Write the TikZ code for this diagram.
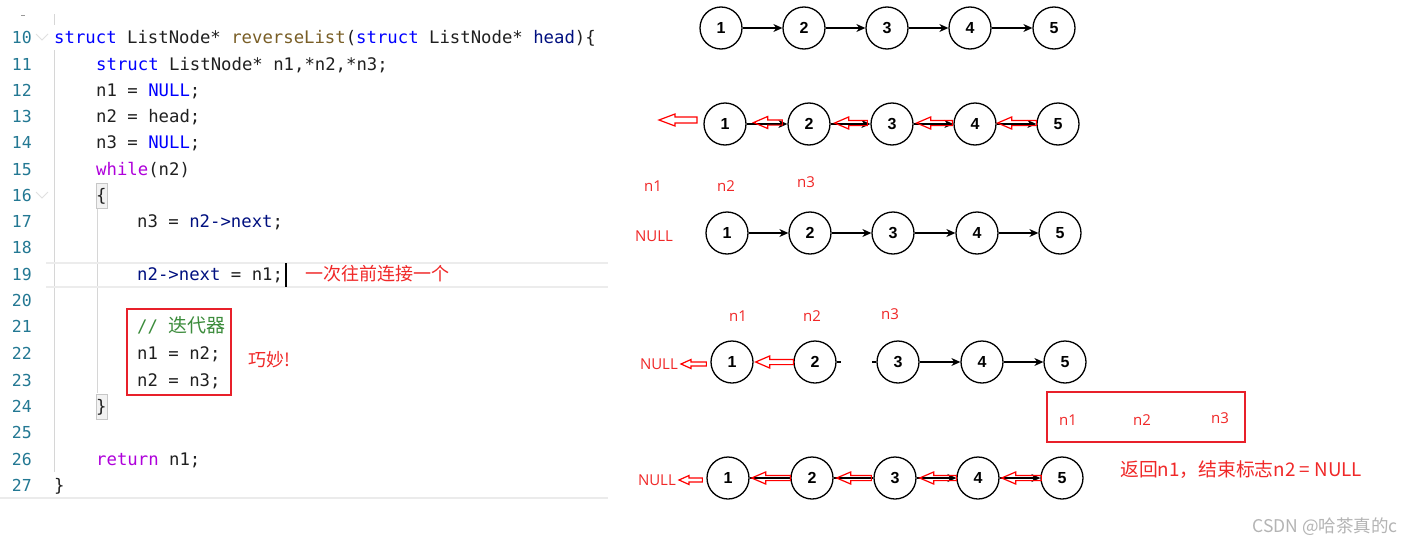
\documentclass[tikz,border=0pt]{standalone}
\usepackage{fontspec}
\setmainfont{Liberation Sans}
\newfontfamily\codefont{DejaVu Sans Mono}
\newfontfamily\cjk{Noto Sans CJK SC}
\newfontfamily\lblfont{Open Sans}
\usetikzlibrary{arrows.meta,calc}
\definecolor{kw}{HTML}{0000FF}
\definecolor{fn}{HTML}{795E26}
\definecolor{var}{HTML}{001080}
\definecolor{ctl}{HTML}{AF00DB}
\definecolor{cmt}{HTML}{3C8C3C}
\definecolor{lnum}{HTML}{237893}
\definecolor{codetxt}{HTML}{202020}
\definecolor{annot}{HTML}{F02828}
\definecolor{boxred}{HTML}{E8202A}
\definecolor{guide}{HTML}{D6D6D6}
\definecolor{curline}{HTML}{ECECEC}
\definecolor{wmark}{HTML}{B4B4B4}
\newcommand\hollowarrow[5]{%
  \draw[hollow] let \p1=#1, \p2=#2 in
   (\x1,\y1) -- (\x1+#3,\y1+#4) -- (\x1+#3,\y1+#5) -- (\x2,\y1+#5)
   -- (\x2,\y1-#5) -- (\x1+#3,\y1-#5) -- (\x1+#3,\y1-#4) -- cycle;}
\tikzset{
  code/.style={anchor=base west,inner sep=0pt,text=codetxt,font=\codefont\fontsize{17.3}{20}\selectfont},
  lnumber/.style={anchor=base east,inner sep=0pt,text=lnum,font=\codefont\fontsize{16.5}{20}\selectfont},
  annotcjk/.style={anchor=west,inner sep=0pt,text=annot,font=\cjk\fontsize{18}{20}\selectfont},
  varlbl/.style={inner sep=0pt,text=annot,font=\lblfont\fontsize{15}{18}\selectfont},
  circ/.style={circle,draw,line width=1.3pt,minimum size=42pt,inner sep=0pt,font=\bfseries\fontsize{16}{16}\selectfont},
  link/.style={line width=1.2pt,-{Stealth[length=9pt,width=8pt]}},
  plainlink/.style={line width=1.2pt},
  hollow/.style={draw=red,line width=1.2pt,line join=miter},
  redbox/.style={draw=boxred,line width=2.6pt},
  bracebox/.style={draw=black!22,fill=black!5,line width=0.8pt},
  fold/.style={draw=black!12,line width=0.8pt}
}
\begin{document}
\begin{tikzpicture}[x=1pt,y=-1pt]
\fill[white] (0,0) rectangle (1413,546);
\useasboundingbox (0,0) rectangle (1413,546);

% ---------- editor decorations ----------
\draw[guide,line width=1pt] (54,14) -- (54,25);
\draw[guide,line width=1pt] (54,50) -- (54,472);
\draw[guide,line width=1pt] (97,208) -- (97,393);
\draw[curline,line width=1.6pt] (46,263) -- (608,263);
\draw[curline,line width=1.6pt] (46,287) -- (608,287);
\draw[black!8,line width=1.5pt] (0,498) -- (608,498);
\draw[bracebox] (96,183) rectangle (107,208);
\draw[bracebox] (96,394) rectangle (107,419);
\draw[fold] (36,34) -- (42,40) -- (48,34);
\draw[fold] (36,192) -- (42,198) -- (48,192);
\draw[black!40,line width=1pt] (21,15) -- (25,15);

% ---------- line numbers ----------
\foreach \n/\y in {10/37,11/64,12/90,13/116,14/142,15/169,16/195,17/221,18/247,19/274,20/300,21/326,22/353,23/380,24/406,25/432,26/459,27/485}
  \node[lnumber] (ln\n) at (32,\y+6) {\n};

% ---------- code ----------
\node[code] (c10) at (54,43) {{\color{kw}struct} ListNode* {\color{fn}reverseList}({\color{kw}struct} ListNode* {\color{var}head})\{};
\node[code] (c11) at (96,70) {{\color{kw}struct} ListNode* n1,*n2,*n3;};
\node[code] (c12) at (96,96) {n1 = {\color{kw}NULL};};
\node[code] (c13) at (96,122) {n2 = head;};
\node[code] (c14) at (96,148) {n3 = {\color{kw}NULL};};
\node[code] (c15) at (96,175) {{\color{ctl}while}(n2)};
\node[code] (c16) at (96,201) {\{};
\node[code] (c17) at (137,227) {n3 = {\color{var}n2->next};};
\node[code] (c19) at (137,280) {{\color{var}n2->next} = n1;};
\node[code] (c21) at (137,332) {{\color{cmt}// {\cjk\fontsize{19}{20}\selectfont 迭代器}}};
\node[code] (c22) at (137,359) {n1 = n2;};
\node[code] (c23) at (137,386) {n2 = n3;};
\node[code] (c24) at (96,412) {\}};
\node[code] (c26) at (96,465) {{\color{ctl}return} n1;};
\node[code] (c27) at (54,491) {\}};
\draw[black,line width=1.5pt] (286,263) -- (286,287);

% ---------- code annotations ----------
\node[annotcjk] (t19) at (305,274) {一次往前连接一个};
\draw[redbox] (127,309) rectangle (231,395);
\node[annotcjk] (tq) at (248,360) {巧妙!};

% ---------- row 1 ----------
\foreach \x [count=\i] in {721,804,887,970,1054}
  \node[circ] (a\i) at (\x,28) {\i};
\foreach \i/\j in {1/2,2/3,3/4,4/5}
  \draw[link] (a\i) -- (a\j);

% ---------- row 2 ----------
\foreach \x [count=\i] in {725,809,892,975,1058}
  \node[circ] (b\i) at (\x,124) {\i};
\foreach \i/\j in {1/2,2/3,3/4,4/5}
  \draw[link] (b\i) -- (b\j);
\coordinate (b0) at (697,120);
\hollowarrow{([xshift=-38pt]b0)}{(b0)}{16pt}{6pt}{3pt}
\hollowarrow{([xshift=7pt,yshift=1.5pt]b1.east)}{([xshift=-5pt]b2.west)}{14pt}{6pt}{2.6pt}
\hollowarrow{([xshift=4pt,yshift=1pt]b2.east)}{([xshift=-3pt]b3.west)}{14pt}{6pt}{2.6pt}
\hollowarrow{([xshift=3pt,yshift=1pt]b3.east)}{([xshift=-1pt]b4.west)}{14pt}{6pt}{2.6pt}
\hollowarrow{([xshift=1pt,yshift=1pt]b4.east)}{([xshift=0pt]b5.west)}{14pt}{6pt}{2.6pt}

% ---------- row 3 ----------
\node[varlbl] (n1c) at (653,186) {n1};
\node[varlbl] (n2c) at (726,186) {n2};
\node[varlbl] (n3c) at (806,182) {n3};
\node[varlbl] (nullc) at (654,236) {NULL};
\foreach \x [count=\i] in {727,810,893,977,1060}
  \node[circ] (c\i) at (\x,233) {\i};
\foreach \i/\j in {1/2,2/3,3/4,4/5}
  \draw[link] (c\i) -- (c\j);

% ---------- row 4 ----------
\node[varlbl] (n1d) at (738,316) {n1};
\node[varlbl] (n2d) at (812,316) {n2};
\node[varlbl] (n3d) at (890,314) {n3};
\node[varlbl,anchor=east] (nulld) at (678,364) {NULL};
\foreach \x [count=\i] in {732,815,898,982,1065}
  \node[circ] (d\i) at (\x,362) {\i};
\foreach \i/\j in {3/4,4/5}
  \draw[link] (d\i) -- (d\j);
\draw[plainlink] (d2.east) -- ++(4,0);
\draw[plainlink] (d3.west) -- ++(-4,0);
\hollowarrow{([xshift=3pt]nulld.east)}{([xshift=-4pt]d1.west)}{10pt}{4.5pt}{2pt}
\hollowarrow{([xshift=2pt]d1.east)}{([xshift=0pt]d2.west)}{14pt}{6pt}{2.6pt}

% ---------- box ----------
\draw[redbox] (1047,392) rectangle (1245,442);
\node[varlbl] (n1e) at (1068,420) {n1};
\node[varlbl] (n2e) at (1142,420) {n2};
\node[varlbl] (n3e) at (1220,418) {n3};

% ---------- row 5 ----------
\node[varlbl,anchor=east] (nullf) at (676,480) {NULL};
\foreach \x [count=\i] in {728,812,895,978,1062}
  \node[circ] (f\i) at (\x,478) {\i};
\foreach \i/\j in {1/2,2/3}
  \draw[plainlink] (f\i) -- (f\j);
\foreach \i/\j in {3/4,4/5}
  \draw[link] (f\i) -- (f\j);
\hollowarrow{([xshift=3pt]nullf.east)}{([xshift=-4pt]f1.west)}{10pt}{4.5pt}{2pt}
\hollowarrow{([xshift=2pt]f1.east)}{([xshift=0pt]f2.west)}{14pt}{6pt}{2.6pt}
\hollowarrow{([xshift=3pt]f2.east)}{([xshift=-2pt]f3.west)}{14pt}{6pt}{2.6pt}
\hollowarrow{([xshift=3pt]f3.east)}{([xshift=0pt]f4.west)}{14pt}{6pt}{2.6pt}
\hollowarrow{([xshift=2pt]f4.east)}{([xshift=1pt]f5.west)}{14pt}{6pt}{2.6pt}

\node[annotcjk,font=\cjk\fontsize{18.8}{20}\selectfont] (ret) at (1120,470) {返回n1，结束标志n2 = NULL};
\node[anchor=east,inner sep=0pt,text=wmark,font=\cjk\fontsize{17.5}{18}\selectfont] (wm) at (1398,527) {CSDN @哈茶真的c};
\end{tikzpicture}
\end{document}
